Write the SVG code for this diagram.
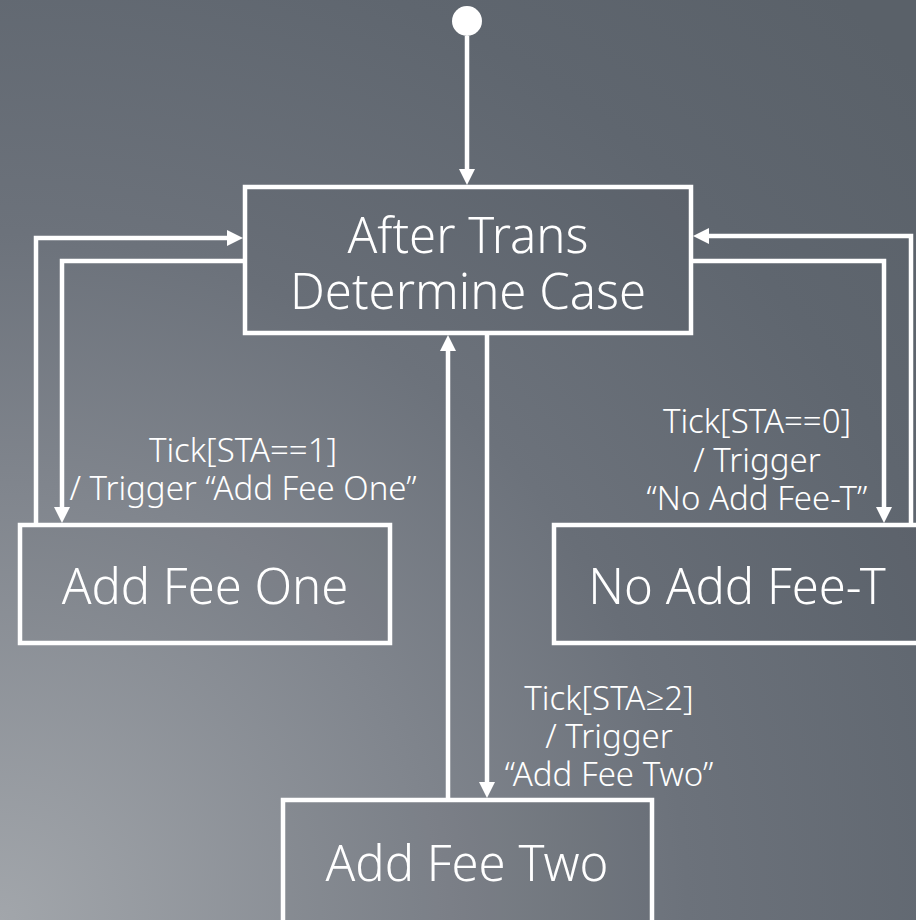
<svg xmlns="http://www.w3.org/2000/svg" width="916" height="920" viewBox="0 0 916 920">
  <defs>
    <radialGradient id="bg" gradientUnits="userSpaceOnUse" cx="0" cy="920" r="1250">
      <stop offset="0" stop-color="#a2a6ab"/>
      <stop offset="0.35" stop-color="#80858d"/>
      <stop offset="0.55" stop-color="#6c727b"/>
      <stop offset="0.8" stop-color="#5f666f"/>
      <stop offset="1" stop-color="#5a6169"/>
    </radialGradient>
    <marker id="arrow" markerUnits="userSpaceOnUse" markerWidth="18" markerHeight="17" refX="10" refY="8" orient="auto">
      <path d="M0,0 L16,8 L0,16 z" fill="#ffffff"/>
    </marker>
    <style>
      .state { fill: rgba(0,0,0,0.03); stroke: #ffffff; stroke-width: 4.5; }
      .name { font-family: "Noto Sans", "Open Sans", "DejaVu Sans", sans-serif; font-weight: 300; font-size: 49px; fill: #ffffff; text-anchor: middle; }
      .label { font-family: "Noto Sans", "Open Sans", "DejaVu Sans", sans-serif; font-weight: 300; font-size: 33px; fill: #ffffff; text-anchor: middle; }
      .wire { fill: none; stroke: #ffffff; stroke-width: 4.5; marker-end: url(#arrow); }
    </style>
  </defs>

  <rect x="0" y="0" width="916" height="920" fill="url(#bg)"/>

  <!-- transitions -->
  <g id="connectors">
    <path class="wire" d="M467,36 V179"/>
    <path class="wire" d="M36,525 V238 H237"/>
    <path class="wire" d="M245,261 H62 V517"/>
    <path class="wire" d="M911,525 V236 H699"/>
    <path class="wire" d="M691,261 H884 V517"/>
    <path class="wire" d="M448,800 V341"/>
    <path class="wire" d="M487,335 V792"/>
    <text class="label" x="243" y="462">Tick[STA==1]</text>
    <text class="label" x="243" y="500">/ Trigger “Add Fee One”</text>
    <text class="label" x="757" y="433">Tick[STA==0]</text>
    <text class="label" x="757" y="472">/ Trigger</text>
    <text class="label" x="757" y="510">“No Add Fee-T”</text>
    <text class="label" x="609" y="710">Tick[STA≥2]</text>
    <text class="label" x="609" y="748">/ Trigger</text>
    <text class="label" x="609" y="786">“Add Fee Two”</text>
  </g>

  <g id="initial">
    <circle cx="467" cy="21" r="15" fill="#ffffff"/>
  </g>

  <g id="after-trans">
    <rect class="state" x="245" y="187" width="446" height="146"/>
    <text class="name" x="468" y="253">After Trans</text>
    <text class="name" x="468" y="309">Determine Case</text>
  </g>

  <g id="add-fee-one">
    <rect class="state" x="20" y="525" width="370" height="118"/>
    <text class="name" x="205" y="604">Add Fee One</text>
  </g>

  <g id="no-add-fee-t">
    <rect class="state" x="554" y="525" width="380" height="118"/>
    <text class="name" x="737" y="604">No Add Fee-T</text>
  </g>

  <g id="add-fee-two">
    <rect class="state" x="283" y="800" width="369" height="140"/>
    <text class="name" x="467" y="881">Add Fee Two</text>
  </g>
</svg>
